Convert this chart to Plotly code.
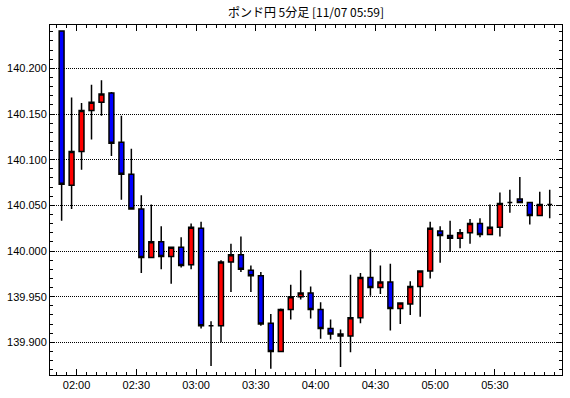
import pandas as pd
import plotly.graph_objects as go

# 5-minute candles, period start times 01:50 ... 05:55 (11/07)
period_start = pd.date_range("2023-11-07 01:50", periods=50, freq="5min")

open_ = [140.241, 140.072, 140.109, 140.154, 140.163, 140.173, 140.119, 140.084, 140.046, 139.993,
         140.010, 139.994, 140.004, 139.985, 140.025, 139.918, 139.918, 139.988, 139.996, 139.979,
         139.973, 139.921, 139.890, 139.936, 139.950, 139.954, 139.936, 139.915, 139.909, 139.907,
         139.927, 139.971, 139.960, 139.966, 139.937, 139.942, 139.961, 139.978, 140.022, 140.017,
         140.014, 140.020, 140.030, 140.018, 140.026, 140.053, 140.057, 140.053, 140.039, 140.051]
high = [140.241, 140.168, 140.162, 140.182, 140.187, 140.174, 140.148, 140.112, 140.061, 140.051,
        140.027, 140.005, 140.015, 140.030, 140.032, 139.923, 139.990, 140.008, 140.016, 139.984,
        139.977, 139.931, 139.937, 139.963, 139.979, 139.961, 139.944, 139.925, 139.914, 139.974,
        139.976, 140.002, 139.984, 139.986, 139.943, 139.967, 139.979, 140.032, 140.027, 140.033,
        140.024, 140.035, 140.036, 140.051, 140.064, 140.067, 140.081, 140.054, 140.065, 140.067]
low = [140.033, 140.046, 140.089, 140.122, 140.148, 140.104, 140.056, 140.046, 139.976, 139.992,
       139.980, 139.964, 139.982, 139.980, 139.915, 139.874, 139.900, 139.955, 139.977, 139.955,
       139.918, 139.871, 139.889, 139.925, 139.947, 139.926, 139.904, 139.903, 139.873, 139.889,
       139.921, 139.951, 139.953, 139.913, 139.920, 139.930, 139.928, 139.970, 139.987, 139.999,
       140.003, 140.008, 140.015, 140.018, 140.016, 140.042, 140.053, 140.029, 140.039, 140.036]
close = [140.073, 140.109, 140.154, 140.163, 140.172, 140.118, 140.084, 140.046, 139.993, 140.010,
         139.994, 140.004, 139.984, 140.026, 139.918, 139.918, 139.988, 139.996, 139.980, 139.973,
         139.920, 139.890, 139.936, 139.950, 139.954, 139.936, 139.915, 139.909, 139.907, 139.927,
         139.971, 139.960, 139.966, 139.937, 139.943, 139.961, 139.978, 140.025, 140.017, 140.014,
         140.020, 140.030, 140.018, 140.026, 140.052, 140.053, 140.053, 140.039, 140.051, 140.051]

x_tick_labels = ["02:00", "02:30", "03:00", "03:30", "04:00", "04:30", "05:00", "05:30"]
title_text = "ポンド円 5分足 [11/07 05:59]"

# candles are drawn at the middle of their 5-minute period
x_mid = period_start + pd.Timedelta(seconds=150)
x_tick_vals = [pd.Timestamp("2023-11-07 " + t) for t in x_tick_labels]

fig = go.Figure(go.Candlestick(
    x=x_mid, open=open_, high=high, low=low, close=close,
    increasing=dict(fillcolor="#ff0000", line=dict(color="#000000", width=1.5)),
    decreasing=dict(fillcolor="#0000ff", line=dict(color="#000000", width=1.5)),
    whiskerwidth=0,
    showlegend=False,
))

tick_font = dict(family="Liberation Sans, Arial, sans-serif", size=11, color="#000000")

fig.update_layout(
    width=570, height=398,
    margin=dict(l=49, r=7, t=25, b=23),
    paper_bgcolor="#ffffff", plot_bgcolor="#ffffff",
    title=dict(text=title_text, x=0.5, xref="paper", xanchor="center",
               y=1 - 13 / 398, yref="container", yanchor="middle",
               font=dict(family="Noto Sans CJK JP, sans-serif", size=12, color="#000000")),
    boxgap=0.3, boxgroupgap=0.3,
)

fig.update_xaxes(
    type="date",
    range=["2023-11-07 01:46:40", "2023-11-07 06:03:40"],
    rangeslider=dict(visible=False),
    tickmode="array", tickvals=x_tick_vals, ticktext=x_tick_labels,
    ticks="inside", ticklen=6, tickcolor="#000000", tickwidth=1,
    minor=dict(ticks="inside", ticklen=3, tickmode="linear",
               tick0="2023-11-07 00:00", dtick=5 * 60 * 1000,
               tickcolor="#000000", showgrid=False),
    showline=True, linecolor="#000000", linewidth=1, mirror="allticks",
    showgrid=False, zeroline=False,
    tickfont=tick_font,
)

fig.update_yaxes(
    range=[139.8642, 140.2475],
    dtick=0.05, tick0=0, tickformat=".3f",
    ticks="inside", ticklen=5, tickcolor="#000000", tickwidth=1,
    minor=dict(ticks="inside", ticklen=3, dtick=0.01, tickcolor="#000000", showgrid=False),
    showline=True, linecolor="#000000", linewidth=1, mirror="allticks",
    showgrid=True, gridcolor="#000000", gridwidth=1, griddash="1px,1px",
    zeroline=False,
    tickfont=tick_font,
)

fig.write_html("out.html")
